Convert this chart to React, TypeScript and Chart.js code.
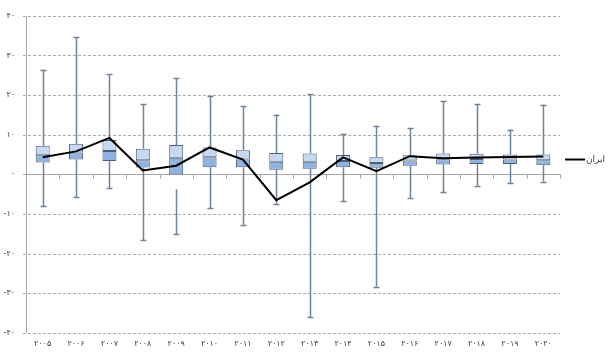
import React, { useEffect, useRef } from "react";
import { Chart, registerables } from "chart.js";

Chart.register(...registerables);

const years = ["۲۰۰۵", "۲۰۰۶", "۲۰۰۷", "۲۰۰۸", "۲۰۰۹", "۲۰۱۰", "۲۰۱۱", "۲۰۱۲", "۲۰۱۳", "۲۰۱۴", "۲۰۱۵", "۲۰۱۶", "۲۰۱۷", "۲۰۱۸", "۲۰۱۹", "۲۰۲۰"];
const mins = [-8.0, -5.7, -3.4, -16.6, -15.1, -8.6, -12.7, -7.4, -36.0, -6.8, -28.3, -5.9, -4.5, -2.9, -2.2, -1.8];
const q1s = [3.0, 3.75, 3.4, 1.75, 0.0, 1.8, 1.8, 1.2, 1.4, 1.8, 1.7, 2.2, 2.5, 2.6, 2.6, 2.3];
const medians = [4.8, 5.5, 5.9, 3.6, 4.2, 4.3, 3.75, 3.2, 3.2, 3.4, 2.9, 3.5, 3.8, 3.9, 3.75, 3.6];
const q3s = [7.2, 7.7, 8.7, 6.5, 7.4, 6.8, 6.1, 5.4, 5.3, 4.9, 4.3, 4.8, 5.25, 5.2, 5.0, 5.0];
const maxs = [26.4, 34.6, 25.2, 17.75, 24.3, 19.7, 17.2, 15.1, 20.2, 10.2, 12.25, 11.6, 18.4, 17.75, 11.3, 17.6];
const lowerWhiskerTops = [3.0, 3.75, 3.4, 1.75, -3.75, 1.8, 1.8, 1.2, 1.4, 1.8, 1.7, 2.2, 2.5, 2.6, 2.6, 2.3];
const iran = [4.3, 5.8, 9.2, 1.0, 2.2, 6.8, 3.75, -6.5, -2.0, 4.3, 0.8, 4.6, 4.1, 4.25, 4.4, 4.5];
const yTickValues = [40, 30, 20, 10, 0, -10, -20, -30, -40];
const yTickLabels = ["۴۰", "۳۰", "۲۰", "۱۰", "۰", "-۱۰", "-۲۰", "-۳۰", "-۴۰"];
const legendLabel = "ایران";

const FONT = "'DejaVu Sans', sans-serif";

const whiskerPlugin = {
  id: "whiskers",
  beforeDatasetsDraw(chart: any) {
    const { ctx, scales, chartArea } = chart;
    const x = scales.x;
    const y = scales.y;
    ctx.save();
    const n = years.length;
    for (const v of yTickValues) {
      const py = Math.round(y.getPixelForValue(v));
      if (v === 0) {
        ctx.fillStyle = "#a6a6a6";
        ctx.fillRect(Math.round(chartArea.left) - 3, py, Math.round(chartArea.right - chartArea.left) + 3, 1);
      } else {
        ctx.fillStyle = "#ababab";
        for (let px = Math.round(chartArea.left) - 3; px < chartArea.right; px += 5) {
          ctx.fillRect(px, py, Math.min(3, chartArea.right - px), 1);
        }
      }
    }
    const y0 = Math.round(y.getPixelForValue(0)) + 0.5;
    ctx.strokeStyle = "#a6a6a6";
    ctx.lineWidth = 1;
    const step = (chartArea.right - chartArea.left) / n;
    for (let i = 0; i <= n; i++) {
      const px = Math.round(chartArea.left + i * step) + 0.5;
      ctx.beginPath();
      ctx.moveTo(px, y0);
      ctx.lineTo(px, y0 + 4);
      ctx.stroke();
    }
    const ax = Math.round(chartArea.left) + 0.5;
    ctx.beginPath();
    ctx.moveTo(ax, chartArea.top);
    ctx.lineTo(ax, chartArea.bottom);
    ctx.stroke();
    ctx.strokeStyle = "#6e8298";
    ctx.lineWidth = 1.5;
    for (let i = 0; i < n; i++) {
      const cx = Math.round(x.getPixelForValue(i)) + 0.5;
      const segs: [number, number][] = [
        [q3s[i], maxs[i]],
        [lowerWhiskerTops[i], mins[i]],
      ];
      for (const [a, b] of segs) {
        ctx.beginPath();
        ctx.moveTo(cx, y.getPixelForValue(a));
        ctx.lineTo(cx, y.getPixelForValue(b));
        ctx.stroke();
        const py = Math.round(y.getPixelForValue(b)) + 0.5;
        ctx.beginPath();
        ctx.moveTo(cx - 3, py);
        ctx.lineTo(cx + 3, py);
        ctx.stroke();
      }
    }
    ctx.restore();
  },
  afterDraw(chart: any) {
    const { ctx, chartArea } = chart;
    const y = chart.scales.y;
    const ly = Math.round(y.getPixelForValue(3.8)) + 0.5;
    ctx.save();
    ctx.strokeStyle = "#000000";
    ctx.lineWidth = 2;
    ctx.beginPath();
    ctx.moveTo(chartArea.right + 5, ly);
    ctx.lineTo(chartArea.right + 25, ly);
    ctx.stroke();
    ctx.fillStyle = "#404040";
    ctx.font = "9px " + FONT;
    ctx.textBaseline = "middle";
    ctx.textAlign = "left";
    ctx.fillText(legendLabel, chartArea.right + 26, ly);
    ctx.restore();
  },
};

export default function App() {
  const ref = useRef<HTMLCanvasElement | null>(null);
  useEffect(() => {
    if (!ref.current) return;
    const chart = new Chart(ref.current, {
      type: "bar",
      data: {
        labels: years,
        datasets: [
          {
            type: "line",
            label: legendLabel,
            data: iran,
            borderColor: "#000000",
            borderWidth: 2,
            pointRadius: 0,
            tension: 0,
            order: 0,
          } as any,
          {
            label: "lower",
            data: q1s.map((v, i) => [v, medians[i]]),
            backgroundColor: "#8db3e2",
            borderColor: "#4f5d6e",
            borderWidth: 1,
            borderSkipped: false,
            grouped: false,
            barPercentage: 0.42,
            categoryPercentage: 1,
            order: 1,
          } as any,
          {
            label: "upper",
            data: medians.map((v, i) => [v, q3s[i]]),
            backgroundColor: "#c6d9f1",
            borderColor: "#4f5d6e",
            borderWidth: 1,
            borderSkipped: false,
            grouped: false,
            barPercentage: 0.42,
            categoryPercentage: 1,
            order: 2,
          } as any,
        ],
      },
      options: {
        animation: false,
        responsive: true,
        maintainAspectRatio: false,
        layout: { padding: { left: 0, right: 50, top: 4, bottom: 0 } },
        plugins: { legend: { display: false }, tooltip: { enabled: false } },
        scales: {
          x: {
            grid: { display: false, drawTicks: false },
            border: { display: false },
            ticks: {
              color: "#404040",
              font: { family: FONT, size: 8 },
              padding: 6,
              maxRotation: 0,
              autoSkip: false,
            },
            afterFit: (s: any) => {
              s.height = 25;
            },
          },
          y: {
            min: -40,
            max: 40,
            afterBuildTicks: (s: any) => {
              s.ticks = yTickValues.map((v) => ({ value: v }));
            },
            ticks: {
              color: "#404040",
              font: { family: FONT, size: 8 },
              padding: 11,
              callback: (v: any) => {
                const idx = yTickValues.indexOf(Number(v));
                return idx >= 0 ? yTickLabels[idx] : "";
              },
            },
            grid: { display: false, drawTicks: false },
            border: { display: false },
            afterFit: (s: any) => {
              s.width = 26;
            },
          } as any,
        },
      },
      plugins: [whiskerPlugin],
    });
    return () => chart.destroy();
  }, []);
  return (
    <div style={{ position: "fixed", left: 0, top: 0, width: 610, height: 358, background: "#ffffff" }}>
      <canvas ref={ref} />
    </div>
  );
}
